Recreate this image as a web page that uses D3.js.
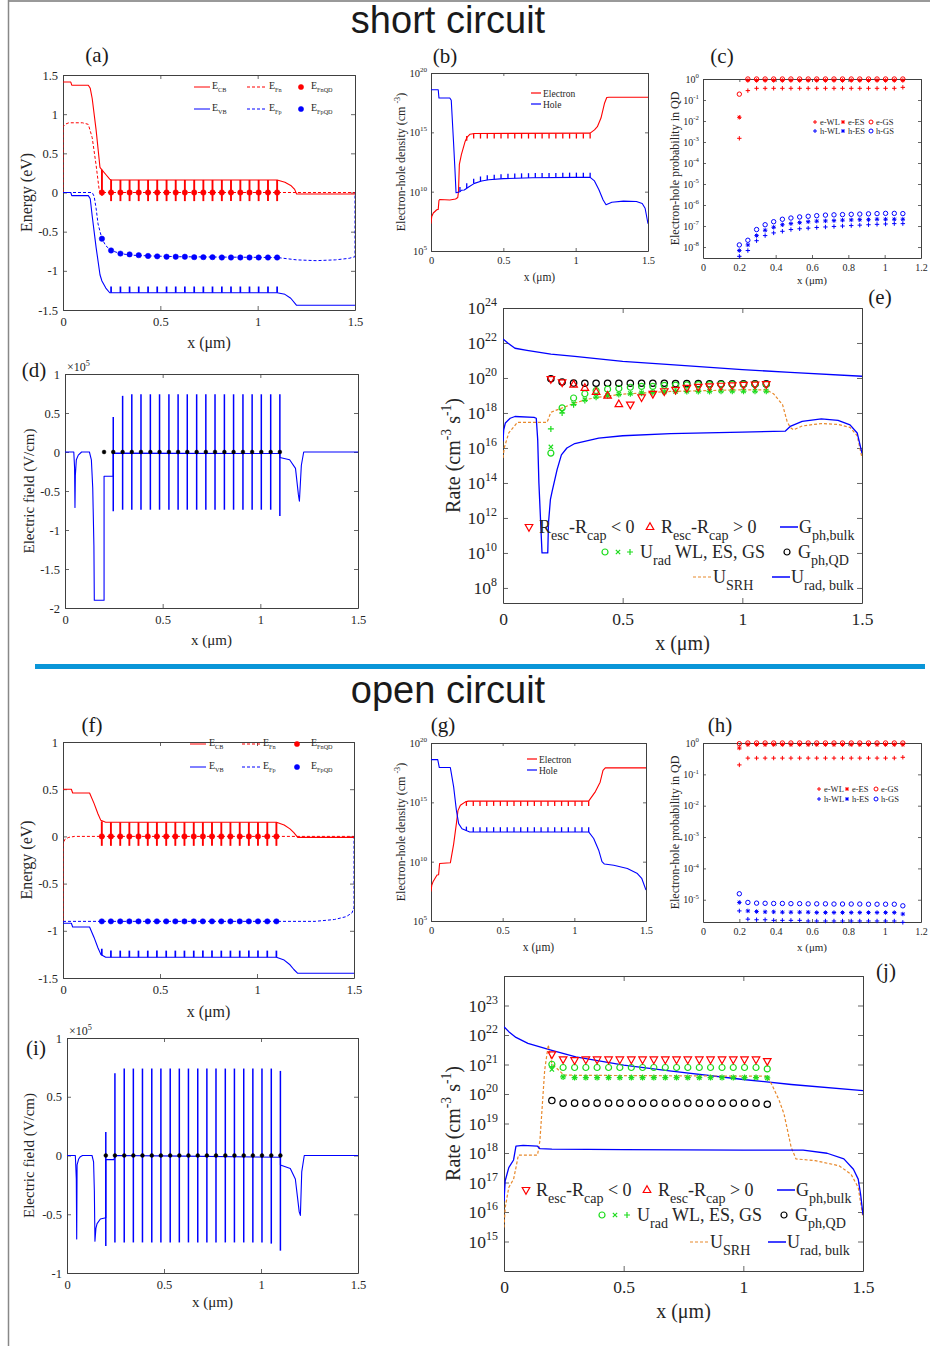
<!DOCTYPE html>
<html>
<head>
<meta charset="utf-8">
<script src="https://cdn.jsdelivr.net/npm/d3@7"></script>
<style>body{margin:0;background:#fff}</style>
</head>
<body>
<script>
// ---------- data ----------
// quantum dot positions (um)
var qdX = [0.2, 0.247, 0.295, 0.342, 0.389, 0.437, 0.484, 0.532, 0.579, 0.626, 0.674, 0.721, 0.768, 0.816, 0.863, 0.911, 0.958, 1.005, 1.053, 1.1];

// (a) short circuit band diagram (eV)
var scECB = [[0,1.41],[0.04,1.41],[0.045,1.37],[0.13,1.37],[0.14,1.33],[0.15,1.2],[0.17,0.8],[0.19,0.32],[0.2,0.29],[0.22,0.23],[0.24,0.17],[0.25,0.16],[1.1,0.16],[1.14,0.13],[1.17,0.09],[1.19,0.04],[1.2,-0.02],[1.5,-0.02]];
var scEFn = [[0,0],[0,0.84],[0.01,0.87],[0.03,0.89],[0.1,0.89],[0.13,0.87],[0.15,0.7],[0.17,0.35],[0.185,0.05],[0.19,0],[1.5,0]];
var scEVB = [[0,0],[0.04,0],[0.045,-0.04],[0.13,-0.04],[0.14,-0.08],[0.15,-0.3],[0.17,-0.7],[0.19,-1.05],[0.2,-1.13],[0.22,-1.22],[0.24,-1.28],[1.1,-1.28],[1.14,-1.3],[1.17,-1.35],[1.2,-1.44],[1.5,-1.44]];
var scEFp = [[0,0],[0.15,0],[0.16,-0.05],[0.17,-0.2],[0.18,-0.4],[0.2,-0.59],[0.22,-0.68],[0.247,-0.74],[0.295,-0.78],[0.35,-0.8],[0.45,-0.81],[0.6,-0.82],[1.1,-0.83],[1.2,-0.86],[1.3,-0.87],[1.4,-0.86],[1.47,-0.84],[1.5,-0.82],[1.5,0]];
var scEFnQD = [0,0,0,0,0,0,0,0,0,0,0,0,0,0,0,0,0,0,0,0];
var scEFpQD = [-0.59,-0.74,-0.78,-0.79,-0.8,-0.81,-0.815,-0.82,-0.82,-0.82,-0.825,-0.825,-0.825,-0.83,-0.83,-0.83,-0.83,-0.83,-0.83,-0.83];
var scCbTop = [0.29,0.16,0.16,0.16,0.16,0.16,0.16,0.16,0.16,0.16,0.16,0.16,0.16,0.16,0.16,0.16,0.16,0.16,0.16,0.16];
var scCbBot = [-0.04,-0.11,-0.11,-0.11,-0.11,-0.11,-0.11,-0.11,-0.11,-0.11,-0.11,-0.11,-0.11,-0.11,-0.11,-0.11,-0.11,-0.11,-0.11,-0.11];
var scVbTop = [null,-1.2,-1.2,-1.2,-1.2,-1.2,-1.2,-1.2,-1.2,-1.2,-1.2,-1.2,-1.2,-1.2,-1.2,-1.2,-1.2,-1.2,-1.2,-1.2];
var scVbBot = [null,-1.28,-1.28,-1.28,-1.28,-1.28,-1.28,-1.28,-1.28,-1.28,-1.28,-1.28,-1.28,-1.28,-1.28,-1.28,-1.28,-1.28,-1.28,-1.28];

// (b) short circuit carrier density (cm^-3)
var scElec = [[0,2e7],[0.005,8e7],[0.016,1.6e8],[0.04,3e8],[0.05,3.2e8],[0.055,1.8e9],[0.06,2.2e9],[0.13,2e9],[0.17,2.4e9],[0.185,3.2e9],[0.19,1e10],[0.196,2e12],[0.21,1.3e13],[0.235,1.6e14],[0.25,4e14],[0.27,7e14],[0.3,8e14],[1.1,8.5e14],[1.13,1.6e15],[1.15,3e15],[1.175,1.6e16],[1.2,3e17],[1.215,8.5e17],[1.23,9e17],[1.5,9e17]];
var scHole = [[0,3.9e18],[0.05,3.9e18],[0.055,7.8e17],[0.13,7.8e17],[0.14,5e17],[0.155,2.3e14],[0.165,1e12],[0.173,8e9],[0.2,1e10],[0.21,1.3e10],[0.23,1.4e10],[0.26,2.5e10],[0.3,5e10],[0.35,8e10],[0.4,1e11],[0.5,1.25e11],[0.7,1.5e11],[1,1.6e11],[1.1,1.6e11],[1.13,8e10],[1.16,1.5e10],[1.19,2e9],[1.21,8e8],[1.25,1.3e9],[1.33,1.6e9],[1.42,1.5e9],[1.46,1e9],[1.48,4e8],[1.5,2e7]];
var scElecQDTop = [null,5e14,8e14,8e14,8e14,8e14,8e14,8e14,8e14,8e14,8e14,8e14,8e14,8e14,8e14,8e14,8e14,8e14,8e14,8.5e14];
var scElecQDBot = [null,2e14,3e14,3e14,3e14,3e14,3e14,3e14,3e14,3e14,3e14,3e14,3e14,3e14,3e14,3e14,3e14,3e14,3e14,3e14];
var scHoleQDBot = [1e10,2e10,4.8e10,7.5e10,9.5e10,1.08e11,1.2e11,1.28e11,1.35e11,1.4e11,1.45e11,1.5e11,1.5e11,1.55e11,1.55e11,1.6e11,1.6e11,1.6e11,1.6e11,1.6e11];
var scHoleQDTop = [2.5e10,5e10,1.2e11,1.9e11,2.4e11,2.7e11,3e11,3.2e11,3.4e11,3.5e11,3.6e11,3.7e11,3.7e11,3.8e11,3.8e11,4e11,4e11,4e11,4e11,4e11];

// (c) short circuit occupation probability in QD
var scEWL = [1.5e-3,0.28,0.36,0.36,0.36,0.36,0.36,0.36,0.36,0.36,0.36,0.36,0.36,0.36,0.36,0.36,0.36,0.36,0.36,0.4];
var scEES = [0.015,0.85,0.85,0.85,0.85,0.85,0.85,0.85,0.85,0.85,0.85,0.85,0.85,0.85,0.85,0.85,0.85,0.85,0.85,0.85];
var scEGS = [0.19,1,1,1,1,1,1,1,1,1,1,1,1,1,1,1,1,1,1,1];
var scHWL = [3.6e-9,6.8e-9,2e-8,3.5e-8,4.7e-8,5.6e-8,6.8e-8,7.4e-8,7.9e-8,8.5e-8,9e-8,9.5e-8,1e-7,1.05e-7,1.1e-7,1.15e-7,1.2e-7,1.25e-7,1.3e-7,1.3e-7];
var scHES = [6.8e-9,1.26e-8,3.5e-8,6.3e-8,8.7e-8,1.15e-7,1.3e-7,1.45e-7,1.6e-7,1.7e-7,1.75e-7,1.8e-7,1.9e-7,1.95e-7,2e-7,2e-7,2.1e-7,2.1e-7,2.1e-7,2.1e-7];
var scHGS = [1.26e-8,2.1e-8,6.8e-8,1.15e-7,1.6e-7,2.1e-7,2.4e-7,2.7e-7,2.9e-7,3.1e-7,3.3e-7,3.4e-7,3.5e-7,3.6e-7,3.7e-7,3.8e-7,3.9e-7,4e-7,4e-7,3.9e-7];

// (d) short circuit electric field (V/cm)
var scField = [[0,0],[0.045,0],[0.049,-2e4],[0.051,-7.1e4],[0.053,-3e4],[0.058,-1e4],[0.068,-4e3],[0.085,0],[0.125,0],[0.135,-1e4],[0.142,-4.6e4],[0.148,-1.2e5],[0.15,-1.9e5],[0.2,-1.9e5],[0.2,-3.1e4],[0.247,-3.1e4],[0.247,-1.5e3],[1.1,-2e3],[1.1,-7e3],[1.15,-1e4],[1.18,-2.1e4],[1.195,-5.5e4],[1.2,-6.3e4],[1.21,-1.7e4],[1.222,0],[1.5,0]];
var scSpikeTop = [null,4.5e4,7.2e4,7.4e4,7.4e4,7.4e4,7.4e4,7.4e4,7.4e4,7.4e4,7.4e4,7.4e4,7.4e4,7.4e4,7.4e4,7.4e4,7.4e4,7.4e4,7.4e4,7.4e4];
var scSpikeBot = [null,-7.6e4,-7.4e4,-7.4e4,-7.4e4,-7.4e4,-7.4e4,-7.4e4,-7.4e4,-7.4e4,-7.4e4,-7.4e4,-7.4e4,-7.4e4,-7.4e4,-7.4e4,-7.4e4,-7.4e4,-7.4e4,-8.2e4];
var scFieldQD = [0,0,0,0,0,0,0,0,0,0,0,0,0,0,0,0,0,0,0,0];

// (e) short circuit rates (cm^-3 s^-1)
var scGphBulk = [[0,1.7e22],[0.02,1e22],[0.05,5e21],[0.1,3.8e21],[0.2,2.3e21],[0.3,1.7e21],[0.5,9e20],[0.7,5.8e20],[1,3e20],[1.2,2.1e20],[1.5,1.26e20]];
var scUradBulk = [[0,2.4e16],[0.003,1.1e17],[0.01,2.7e17],[0.03,5e17],[0.05,6.3e17],[0.13,5.6e17],[0.139,5e17],[0.145,3e16],[0.15,1e14],[0.163,1e10],[0.187,1e10],[0.19,5e11],[0.198,1.1e13],[0.205,3.2e13],[0.226,5.8e14],[0.244,4e15],[0.267,1e16],[0.3,1.8e16],[0.4,3.7e16],[0.5,5e16],[0.7,6.6e16],[1,8e16],[1.18,9.3e16],[1.2,1.7e17],[1.25,3.3e17],[1.33,4.6e17],[1.4,3.8e17],[1.45,2.1e17],[1.48,7.2e16],[1.5,5e15]];
var scUsrh = [[0,2.7e15],[0.005,1e16],[0.024,7.2e16],[0.06,2.9e17],[0.184,2.9e17],[0.2,1.1e18],[0.25,2e18],[0.3,3.7e18],[0.35,6e18],[0.4,8e18],[0.5,1.2e19],[0.7,1.7e19],[1,2.1e19],[1.1,2.1e19],[1.13,1.26e19],[1.168,3e18],[1.187,3.3e17],[1.2,1.5e17],[1.214,1.1e17],[1.25,1.8e17],[1.33,2.5e17],[1.4,2.2e17],[1.45,1.5e17],[1.48,5e16],[1.5,2.7e15]];
var scGphQD = [9.1e19,5.9e19,5.1e19,5e19,5e19,5e19,5e19,5e19,5e19,5e19,5e19,4.8e19,4.8e19,4.8e19,4.6e19,4.6e19,4.6e19,4.6e19,4.6e19,4.6e19];
var scRescNeg = [8.7e19,5.6e19,null,null,null,null,null,3e18,7.9e18,1.23e19,1.74e19,2.1e19,2.7e19,3.1e19,3.3e19,3.6e19,3.8e19,4e19,4.2e19,4.4e19];
var scRescPos = [null,null,4.2e19,2.7e19,1.6e19,9.8e18,3.2e18,null,null,null,null,null,null,null,null,null,null,null,null,null];
var scUradWL = [5.1e15,1.95e18,7.2e18,1.26e19,1.9e19,2.3e19,2.5e19,2.95e19,3.3e19,3.3e19,3.8e19,3.9e19,4e19,4.2e19,4.2e19,4.4e19,4.4e19,4.4e19,4.4e19,4.4e19];
var scUradES = [1.15e16,1.26e18,3.4e18,5.8e18,8.5e18,1e19,1.2e19,1.3e19,1.4e19,1.5e19,1.6e19,1.7e19,1.75e19,1.75e19,1.75e19,1.8e19,1.8e19,1.8e19,1.8e19,1.8e19];
var scUradGS = [1.23e17,1e18,3e18,5.2e18,8e18,1e19,1.15e19,1.25e19,1.35e19,1.45e19,1.55e19,1.65e19,1.7e19,1.7e19,1.7e19,1.75e19,1.75e19,1.75e19,1.75e19,1.75e19];

// (f) open circuit band diagram (eV)
var ocECB = [[0,0.5],[0.043,0.5],[0.05,0.46],[0.137,0.46],[0.16,0.35],[0.18,0.24],[0.195,0.17],[0.22,0.15],[1.1,0.15],[1.14,0.12],[1.17,0.08],[1.19,0.04],[1.21,-0.01],[1.5,-0.01]];
var ocEFn = [[0,-0.9],[0,-0.08],[0.01,-0.03],[0.03,-0.01],[0.06,0],[1.5,0]];
var ocEVB = [[0,-0.92],[0.043,-0.92],[0.05,-0.96],[0.137,-0.96],[0.16,-1.07],[0.18,-1.18],[0.195,-1.25],[0.22,-1.28],[1.1,-1.28],[1.14,-1.31],[1.17,-1.36],[1.19,-1.41],[1.21,-1.45],[1.5,-1.45]];
var ocEFp = [[0,-0.9],[1.3,-0.9],[1.4,-0.88],[1.46,-0.85],[1.49,-0.81],[1.5,-0.75],[1.5,0]];
var ocEFnQD = [0,0,0,0,0,0,0,0,0,0,0,0,0,0,0,0,0,0,0,0];
var ocEFpQD = [-0.9,-0.9,-0.9,-0.9,-0.9,-0.9,-0.9,-0.9,-0.9,-0.9,-0.9,-0.9,-0.9,-0.9,-0.9,-0.9,-0.9,-0.9,-0.9,-0.9];
var ocCbTop = [0.16,0.15,0.15,0.15,0.15,0.15,0.15,0.15,0.15,0.15,0.15,0.15,0.15,0.15,0.15,0.15,0.15,0.15,0.15,0.15];
var ocCbBot = [-0.1,-0.1,-0.1,-0.1,-0.1,-0.1,-0.1,-0.1,-0.1,-0.1,-0.1,-0.1,-0.1,-0.1,-0.1,-0.1,-0.1,-0.1,-0.1,-0.1];
var ocVbTop = [-1.19,-1.21,-1.21,-1.21,-1.21,-1.21,-1.21,-1.21,-1.21,-1.21,-1.21,-1.21,-1.21,-1.21,-1.21,-1.21,-1.21,-1.21,-1.21,-1.21];
var ocVbBot = [-1.26,-1.28,-1.28,-1.28,-1.28,-1.28,-1.28,-1.28,-1.28,-1.28,-1.28,-1.28,-1.28,-1.28,-1.28,-1.28,-1.28,-1.28,-1.28,-1.28];

// (g) open circuit carrier density (cm^-3)
var ocElec = [[0,3e7],[0.005,1e8],[0.014,2e8],[0.042,7.4e8],[0.053,8e8],[0.06,7e9],[0.135,8e9],[0.158,3e11],[0.177,1.6e13],[0.188,2e14],[0.205,5.7e14],[0.24,1.1e15],[0.26,1.26e15],[1.1,1.26e15],[1.147,8e15],[1.18,5e16],[1.2,5e17],[1.216,8e17],[1.5,8e17]];
var ocHole = [[0,4e18],[0.047,4e18],[0.058,8.5e17],[0.135,8.5e17],[0.158,2e16],[0.177,2.2e14],[0.193,1.6e13],[0.216,6e12],[0.25,4e12],[0.27,3.2e12],[1.1,3.2e12],[1.135,9e11],[1.17,9.3e10],[1.193,1e10],[1.21,6.3e9],[1.275,5e9],[1.37,2.7e9],[1.44,1e9],[1.47,4e8],[1.5,4e7]];
var ocElecQDTop = [null,1.2e15,1.26e15,1.26e15,1.26e15,1.26e15,1.26e15,1.26e15,1.26e15,1.26e15,1.26e15,1.26e15,1.26e15,1.26e15,1.26e15,1.26e15,1.26e15,1.26e15,1.26e15,1.26e15];
var ocElecQDBot = [null,5e14,5e14,5e14,5e14,5e14,5e14,5e14,5e14,5e14,5e14,5e14,5e14,5e14,5e14,5e14,5e14,5e14,5e14,5e14];
var ocHoleQDBot = [null,4e12,3.2e12,3.2e12,3.2e12,3.2e12,3.2e12,3.2e12,3.2e12,3.2e12,3.2e12,3.2e12,3.2e12,3.2e12,3.2e12,3.2e12,3.2e12,3.2e12,3.2e12,3.2e12];
var ocHoleQDTop = [null,9e12,8e12,8e12,8e12,8e12,8e12,8e12,8e12,8e12,8e12,8e12,8e12,8e12,8e12,8e12,8e12,8e12,8e12,8e12];

// (h) open circuit occupation probability in QD
var ocEWL = [0.2,0.33,0.33,0.33,0.33,0.33,0.33,0.33,0.33,0.33,0.33,0.33,0.33,0.33,0.33,0.33,0.33,0.33,0.33,0.35];
var ocEES = [0.69,0.89,0.89,0.89,0.89,0.89,0.89,0.89,0.89,0.89,0.89,0.89,0.89,0.89,0.89,0.89,0.89,0.89,0.89,0.89];
var ocEGS = [0.95,1,1,1,1,1,1,1,1,1,1,1,1,1,1,1,1,1,1,1];
var ocHGS = [1.55e-5,8.2e-6,7.8e-6,7.7e-6,7.6e-6,7.6e-6,7.5e-6,7.5e-6,7.4e-6,7.4e-6,7.4e-6,7.3e-6,7.3e-6,7.3e-6,7.3e-6,7.2e-6,7.2e-6,7.2e-6,7.2e-6,6.4e-6];
var ocHES = [8.2e-6,4.4e-6,4.2e-6,4.1e-6,4.1e-6,4e-6,4e-6,4e-6,4e-6,3.9e-6,3.9e-6,3.9e-6,3.9e-6,3.9e-6,3.9e-6,3.9e-6,3.9e-6,3.9e-6,3.9e-6,3.5e-6];
var ocHWL = [4.4e-6,2.4e-6,2.3e-6,2.3e-6,2.2e-6,2.2e-6,2.2e-6,2.2e-6,2.1e-6,2.1e-6,2.1e-6,2.1e-6,2.1e-6,2.1e-6,2.1e-6,2.1e-6,2.1e-6,2.1e-6,2.1e-6,1.9e-6];

// (i) open circuit electric field (V/cm)
var ocField = [[0,0],[0.043,0],[0.048,-2e4],[0.05,-7.1e4],[0.052,-8e3],[0.06,-3e3],[0.069,-1e3],[0.08,0],[0.129,0],[0.137,-5.5e3],[0.141,-3e4],[0.144,-7.3e4],[0.149,-6.2e4],[0.155,-5.8e4],[0.172,-5.4e4],[0.2,-5.3e4],[0.2,-3.5e3],[0.242,-3.5e3],[0.247,0],[0.6,-500],[1.1,-1.5e3],[1.1,-8e3],[1.151,-1.1e4],[1.177,-2e4],[1.197,-4.8e4],[1.203,-5.1e4],[1.21,-1.4e4],[1.223,0],[1.5,0]];
var ocSpikeTop = [2e4,7e4,7.4e4,7.4e4,7.4e4,7.4e4,7.4e4,7.4e4,7.4e4,7.4e4,7.4e4,7.4e4,7.4e4,7.4e4,7.4e4,7.4e4,7.4e4,7.4e4,7.4e4,7.2e4];
var ocSpikeBot = [-7.7e4,-7.4e4,-7.4e4,-7.4e4,-7.4e4,-7.4e4,-7.4e4,-7.4e4,-7.4e4,-7.4e4,-7.4e4,-7.4e4,-7.4e4,-7.4e4,-7.4e4,-7.4e4,-7.4e4,-7.4e4,-7.5e4,-8.1e4];
var ocFieldQD = [0,0,0,0,0,0,0,0,0,0,0,0,0,0,0,0,0,0,0,0];

// (j) open circuit rates (cm^-3 s^-1)
var ocGphBulk = [[0,1.9e22],[0.02,1.3e22],[0.05,8.3e21],[0.1,5.2e21],[0.2,3e21],[0.3,1.8e21],[0.5,9.5e20],[0.7,6e20],[1,3.1e20],[1.2,2.1e20],[1.5,1.3e20]];
var ocUradBulk = [[0,2.3e16],[0.005,1.15e17],[0.02,3.2e17],[0.04,5.8e17],[0.05,1.7e18],[0.08,1.8e18],[0.14,1.7e18],[0.15,1.4e18],[0.2,1.35e18],[0.5,1.3e18],[1,1.26e18],[1.25,1.26e18],[1.35,9.8e17],[1.42,6.3e17],[1.46,2.8e17],[1.48,1.3e17],[1.49,4e16],[1.5,8e15]];
var ocUsrh = [[0,3e15],[0.005,1.4e16],[0.02,6.8e16],[0.04,1.3e17],[0.05,3.2e17],[0.06,8.5e17],[0.14,8.5e17],[0.15,2.6e18],[0.17,6.5e20],[0.185,4.6e21],[0.2,1.07e21],[0.25,4.4e20],[0.3,4.3e20],[1.1,4e20],[1.12,2e20],[1.15,6e19],[1.17,2.1e19],[1.2,1.55e18],[1.22,6.3e17],[1.3,5.5e17],[1.4,3.7e17],[1.45,1.9e17],[1.48,6.8e16],[1.5,6.5e15]];
var ocRescNeg = [2.2e21,1.5e21,1.4e21,1.48e21,1.48e21,1.48e21,1.48e21,1.48e21,1.48e21,1.48e21,1.48e21,1.48e21,1.48e21,1.48e21,1.48e21,1.48e21,1.48e21,1.48e21,1.48e21,1.3e21];
var ocUradWL = [1.02e21,7.9e20,7.9e20,7.9e20,7.9e20,7.9e20,7.9e20,7.9e20,7.9e20,7.9e20,7.9e20,7.9e20,7.9e20,7.9e20,7.9e20,7.9e20,7.9e20,7.9e20,7.9e20,7.1e20];
var ocUradES = [6.8e20,3.8e20,3.6e20,3.6e20,3.6e20,3.6e20,3.6e20,3.6e20,3.6e20,3.6e20,3.6e20,3.6e20,3.6e20,3.6e20,3.6e20,3.6e20,3.6e20,3.6e20,3.6e20,3.5e20];
var ocUradGS = [8.3e20,3.8e20,3.6e20,3.6e20,3.6e20,3.6e20,3.6e20,3.6e20,3.6e20,3.6e20,3.6e20,3.6e20,3.6e20,3.6e20,3.6e20,3.6e20,3.6e20,3.6e20,3.6e20,3.5e20];
var ocGphQD = [6e19,4.9e19,4.9e19,4.9e19,4.9e19,4.9e19,4.9e19,4.9e19,4.9e19,4.9e19,4.9e19,4.9e19,4.9e19,4.9e19,4.9e19,4.9e19,4.9e19,4.9e19,4.9e19,4.5e19];

// ---------- drawing ----------
var serif = "'Liberation Serif', 'Times New Roman', serif";
var sans = "'Liberation Sans', Arial, sans-serif";
var axisCol = "#404040", textCol = "#262626";
var red = "#ff0000", blue = "#0000ff", green = "#1edc1e", orange = "#e8892c";

var svg = d3.select("body").append("svg").attr("width", 930).attr("height", 1346);
var defs = svg.append("defs");

svg.append("rect").attr("width", 930).attr("height", 1346).attr("fill", "#fff");
svg.append("line").attr("x1", 8).attr("x2", 930).attr("y1", 1).attr("y2", 1).attr("stroke", "#999").attr("stroke-width", 2);
svg.append("line").attr("x1", 8.5).attr("x2", 8.5).attr("y1", 0).attr("y2", 1346).attr("stroke", "#888").attr("stroke-width", 1.5);

svg.append("text").attr("x", 448).attr("y", 33).attr("text-anchor", "middle")
  .attr("font-family", sans).attr("font-size", 38).attr("fill", "#1a1a1a").text("short circuit");
svg.append("text").attr("x", 448).attr("y", 703).attr("text-anchor", "middle")
  .attr("font-family", sans).attr("font-size", 38).attr("fill", "#1a1a1a").text("open circuit");
svg.append("rect").attr("x", 35).attr("y", 664).attr("width", 890).attr("height", 5).attr("fill", "#0a96d8");

function makeAxes(o) {
  var P = {};
  P.x = d3.scaleLinear().domain(o.xd).range([o.l, o.r]);
  P.y = (o.log ? d3.scaleLog() : d3.scaleLinear()).domain(o.yd).range([o.b, o.t]);
  var g = svg.append("g");
  var tl = o.tl || 4;
  var fx = function(d) { return String(d); };
  var fy = o.yfmt || fx;
  g.append("g").attr("transform", "translate(0," + o.b + ")")
    .call(d3.axisBottom(P.x).tickValues(o.xt).tickSizeInner(-tl).tickSizeOuter(0).tickPadding(o.xpad).tickFormat(fx));
  g.append("g").attr("transform", "translate(0," + o.t + ")")
    .call(d3.axisTop(P.x).tickValues(o.xt).tickSizeInner(-tl).tickSizeOuter(0).tickFormat(""));
  var gl = g.append("g").attr("transform", "translate(" + o.l + ",0)")
    .call(d3.axisLeft(P.y).tickValues(o.yt).tickSizeInner(-tl).tickSizeOuter(0).tickPadding(o.ypad)
      .tickFormat(o.log ? function() { return ""; } : fy));
  g.append("g").attr("transform", "translate(" + o.r + ",0)")
    .call(d3.axisRight(P.y).tickValues(o.yt).tickSizeInner(-tl).tickSizeOuter(0).tickFormat(""));
  g.selectAll(".domain").attr("stroke", axisCol).attr("stroke-width", 1);
  g.selectAll(".tick line").attr("stroke", axisCol).attr("stroke-width", 0.8);
  g.selectAll("g").attr("font-family", serif).attr("font-size", o.fs);
  g.selectAll(".tick text").attr("fill", textCol);
  if (o.log) {
    gl.selectAll(".tick text").each(function(d) {
      var t = d3.select(this);
      t.append("tspan").text("10");
      t.append("tspan").attr("dy", -o.fs * 0.45).attr("font-size", o.fs * 0.68).text(Math.round(Math.log10(d)));
    });
  }
  defs.append("clipPath").attr("id", "clip" + o.name).append("rect")
    .attr("x", o.l).attr("y", o.t).attr("width", o.r - o.l).attr("height", o.b - o.t);
  P.plot = svg.append("g").attr("clip-path", "url(#clip" + o.name + ")");
  P.marks = svg.append("g");
  P.o = o;
  return P;
}

function rich(x, y, parts, size, opt) {
  opt = opt || {};
  var t = svg.append("text").attr("x", x).attr("y", y).attr("font-family", serif)
    .attr("font-size", size).attr("fill", opt.fill || textCol).attr("text-anchor", opt.anchor || "start");
  if (opt.rotate) t.attr("transform", "rotate(-90," + x + "," + y + ")");
  var ratio = opt.ratio || 0.68, shift = 0;
  parts.forEach(function(p) {
    var target = p[1] === "sub" ? size * (opt.subShift || 0.3) : p[1] === "sup" ? -size * 0.45 : 0;
    var ts = t.append("tspan").attr("dy", target - shift).text(p[0]);
    if (p[1]) ts.attr("font-size", size * ratio);
    shift = target;
  });
  return t;
}

function xlabel(P, y, fs) {
  rich((P.o.l + P.o.r) / 2, y, [["x ("], ["\u03bcm)"]], fs, { anchor: "middle" });
}
function ylabel(P, x, parts, fs) {
  rich(x, (P.o.t + P.o.b) / 2, parts, fs, { anchor: "middle", rotate: true });
}
function panelLabel(x, y, s) {
  svg.append("text").attr("x", x).attr("y", y).attr("text-anchor", "middle").attr("font-family", serif)
    .attr("font-size", 21).attr("fill", "#1a1a1a").text(s);
}

function curve(P, data, color, dash, w) {
  P.plot.append("path").datum(data).attr("fill", "none").attr("stroke", color)
    .attr("stroke-width", w || 1).attr("stroke-dasharray", dash || null).attr("stroke-linejoin", "round")
    .attr("d", d3.line().x(function(d) { return P.x(d[0]); }).y(function(d) { return P.y(d[1]); }));
}

function bars(P, xs, tops, bots, color, w) {
  var data = xs.map(function(v, i) { return [v, tops[i], bots[i]]; }).filter(function(d) { return d[1] != null; });
  P.plot.selectAll(null).data(data).join("line")
    .attr("x1", function(d) { return P.x(d[0]); }).attr("x2", function(d) { return P.x(d[0]); })
    .attr("y1", function(d) { return P.y(d[1]); }).attr("y2", function(d) { return P.y(d[2]); })
    .attr("stroke", color).attr("stroke-width", w);
}

function symPath(shape, s) {
  var p = d3.path(), k = s * 0.72;
  if (shape === "circle" || shape === "dot") { p.moveTo(s, 0); p.arc(0, 0, s, 0, 2 * Math.PI); }
  else if (shape === "plus") { p.moveTo(-s, 0); p.lineTo(s, 0); p.moveTo(0, -s); p.lineTo(0, s); }
  else if (shape === "times") { p.moveTo(-k, -k); p.lineTo(k, k); p.moveTo(-k, k); p.lineTo(k, -k); }
  else if (shape === "star") {
    p.moveTo(-s, 0); p.lineTo(s, 0); p.moveTo(0, -s); p.lineTo(0, s);
    p.moveTo(-k, -k); p.lineTo(k, k); p.moveTo(-k, k); p.lineTo(k, -k);
  }
  else if (shape === "tri") { p.moveTo(0, -s); p.lineTo(s * 0.9, s * 0.6); p.lineTo(-s * 0.9, s * 0.6); p.closePath(); }
  else if (shape === "triDown") { p.moveTo(0, s); p.lineTo(s * 0.9, -s * 0.6); p.lineTo(-s * 0.9, -s * 0.6); p.closePath(); }
  return p.toString();
}

function symbolAt(g, x, y, shape, color, s, w) {
  g.append("path").attr("transform", "translate(" + x + "," + y + ")").attr("d", symPath(shape, s))
    .attr("fill", shape === "dot" ? color : "none").attr("stroke", color).attr("stroke-width", shape === "dot" ? 0.5 : (w || 1));
}

function marks(P, xs, vals, shape, color, s, w) {
  var data = xs.map(function(v, i) { return [v, vals[i]]; }).filter(function(d) { return d[1] != null; });
  P.marks.selectAll(null).data(data).join("path")
    .attr("transform", function(d) { return "translate(" + P.x(d[0]) + "," + P.y(d[1]) + ")"; })
    .attr("d", symPath(shape, s))
    .attr("fill", shape === "dot" ? color : "none").attr("stroke", color)
    .attr("stroke-width", shape === "dot" ? 0.5 : (w || 1));
}

function legLine(x1, x2, y, color, dash, w) {
  svg.append("line").attr("x1", x1).attr("x2", x2).attr("y1", y).attr("y2", y).attr("stroke", color)
    .attr("stroke-width", w || 1).attr("stroke-dasharray", dash || null);
}

var xt15 = [0, 0.5, 1, 1.5];

// ----- band diagram panels (a) & (f)
function bandPanel(box, yd, yt, d, leg) {
  var P = makeAxes(Object.assign({ xd: [0, 1.5], yd: yd, xt: xt15, yt: yt, fs: 12.5, xpad: 7, ypad: 5 }, box));
  curve(P, d.efn, red, "3,2");
  curve(P, d.efp, blue, "3,2");
  curve(P, d.ecb, red, null, 1.1);
  curve(P, d.evb, blue, null, 1.1);
  bars(P, qdX, d.cbTop, d.cbBot, red, 1.9);
  bars(P, qdX, d.vbTop, d.vbBot, blue, 1.7);
  marks(P, qdX, d.efnQD, "dot", red, 2.7);
  marks(P, qdX, d.efpQD, "dot", blue, 2.7);
  // legend
  var c = leg.cols, tx = leg.texts, r = leg.rows;
  legLine(c[0], c[0] + 16, r[0], red, null, 1);
  legLine(c[1], c[1] + 20, r[0], red, "3,2", 1);
  symbolAt(svg, c[2], r[0], "dot", red, 2.6);
  legLine(c[0], c[0] + 16, r[1], blue, null, 1);
  legLine(c[1], c[1] + 20, r[1], blue, "3,2", 1);
  symbolAt(svg, c[2], r[1], "dot", blue, 2.6);
  rich(tx[0], r[0] + 2, [["E"], ["CB", "sub"]], 10, { ratio: 0.62 });
  rich(tx[1], r[0] + 2, [["E"], ["Fn", "sub"]], 10, { ratio: 0.62 });
  rich(tx[2], r[0] + 2, [["E"], ["FnQD", "sub"]], 10, { ratio: 0.62 });
  rich(tx[0], r[1] + 2, [["E"], ["VB", "sub"]], 10, { ratio: 0.62 });
  rich(tx[1], r[1] + 2, [["E"], ["Fp", "sub"]], 10, { ratio: 0.62 });
  rich(tx[2], r[1] + 2, [["E"], ["FpQD", "sub"]], 10, { ratio: 0.62 });
  xlabel(P, box.xlab, 16);
  ylabel(P, box.ylabX, [["Energy (eV)"]], 16);
  return P;
}

bandPanel({ name: "a", l: 63, t: 75, r: 355, b: 310, xlab: 348, ylabX: 32 }, [-1.5, 1.5], [-1.5, -1, -0.5, 0, 0.5, 1, 1.5],
  { ecb: scECB, efn: scEFn, evb: scEVB, efp: scEFp, efnQD: scEFnQD, efpQD: scEFpQD, cbTop: scCbTop, cbBot: scCbBot, vbTop: scVbTop, vbBot: scVbBot },
  { cols: [194, 247, 301], texts: [212, 269, 311], rows: [87, 109] });
panelLabel(97, 62, "(a)");

bandPanel({ name: "f", l: 63, t: 742, r: 354, b: 978, xlab: 1017, ylabX: 32 }, [-1.5, 1], [-1.5, -1, -0.5, 0, 0.5, 1],
  { ecb: ocECB, efn: ocEFn, evb: ocEVB, efp: ocEFp, efnQD: ocEFnQD, efpQD: ocEFpQD, cbTop: ocCbTop, cbBot: ocCbBot, vbTop: ocVbTop, vbBot: ocVbBot },
  { cols: [190, 242, 297], texts: [209, 263, 311], rows: [744, 767] });
panelLabel(92, 732, "(f)");

// ----- density panels (b) & (g)
function densPanel(box, d, leg) {
  var P = makeAxes(Object.assign({ xd: [0, 1.5], yd: [1e5, 1e20], log: true, xt: xt15, yt: [1e5, 1e10, 1e15, 1e20], fs: 10.5, xpad: 6, ypad: 4, tl: 3 }, box));
  curve(P, d.elec, red, null, 1.1);
  curve(P, d.hole, blue, null, 1.1);
  bars(P, qdX, d.eTop, d.eBot, red, 1.3);
  bars(P, qdX, d.hTop, d.hBot, blue, 1.3);
  legLine(leg.x, leg.x + 10, leg.y, red, null, 1.2);
  legLine(leg.x, leg.x + 10, leg.y + 11, blue, null, 1.2);
  rich(leg.x + 12, leg.y + 3.5, [["Electron"]], 9.5);
  rich(leg.x + 12, leg.y + 14.5, [["Hole"]], 9.5);
  xlabel(P, box.xlab, 11.5);
  ylabel(P, box.ylabX, [["Electron-hole density (cm "], ["-3", "sup"], [")"]], 12);
  return P;
}
densPanel({ name: "b", l: 431, t: 73, r: 648, b: 251, xlab: 281, ylabX: 405 },
  { elec: scElec, hole: scHole, eTop: scElecQDTop, eBot: scElecQDBot, hTop: scHoleQDTop, hBot: scHoleQDBot },
  { x: 531, y: 93 });
panelLabel(445, 63, "(b)");
densPanel({ name: "g", l: 431, t: 743, r: 646, b: 921, xlab: 951, ylabX: 405 },
  { elec: ocElec, hole: ocHole, eTop: ocElecQDTop, eBot: ocElecQDBot, hTop: ocHoleQDTop, hBot: ocHoleQDBot },
  { x: 527, y: 759 });
panelLabel(443, 732, "(g)");

// ----- probability panels (c) & (h)
function probPanel(box, yd, yt, d, leg) {
  var P = makeAxes(Object.assign({ xd: [0, 1.2], yd: yd, log: true, xt: [0, 0.2, 0.4, 0.6, 0.8, 1, 1.2], yt: yt, fs: 10, xpad: 6, ypad: 4, tl: 3 }, box));
  marks(P, qdX, d.eWL, "plus", red, 2.2, 1);
  marks(P, qdX, d.eES, "star", red, 2.2, 1);
  marks(P, qdX, d.eGS, "circle", red, 2.2, 1);
  marks(P, qdX, d.hWL, "plus", blue, 2.2, 1);
  marks(P, qdX, d.hES, "star", blue, 2.2, 1);
  marks(P, qdX, d.hGS, "circle", blue, 2.2, 1);
  var names = [["e-WL", "e-ES", "e-GS"], ["h-WL", "h-ES", "h-GS"]];
  var shapes = ["plus", "star", "circle"];
  [red, blue].forEach(function(col, r) {
    shapes.forEach(function(sh, c) {
      symbolAt(svg, leg.cols[c], leg.rows[r], sh, col, 2, 1);
      rich(leg.cols[c] + 5, leg.rows[r] + 3, [[names[r][c]]], 8.5);
    });
  });
  xlabel(P, box.xlab, 11);
  ylabel(P, box.ylabX, [["Electron-hole probability in QD"]], 12);
  return P;
}
probPanel({ name: "c", l: 703, t: 79, r: 921, b: 258, xlab: 284, ylabX: 679 }, [3e-9, 1],
  [1e-8, 1e-7, 1e-6, 1e-5, 1e-4, 1e-3, 1e-2, 1e-1, 1],
  { eWL: scEWL, eES: scEES, eGS: scEGS, hWL: scHWL, hES: scHES, hGS: scHGS },
  { cols: [815, 843, 871], rows: [122, 131] });
panelLabel(722, 63, "(c)");
probPanel({ name: "h", l: 703, t: 743, r: 921, b: 922, xlab: 951, ylabX: 679 }, [1.95e-6, 1],
  [1e-5, 1e-4, 1e-3, 1e-2, 1e-1, 1],
  { eWL: ocEWL, eES: ocEES, eGS: ocEGS, hWL: ocHWL, hES: ocHES, hGS: ocHGS },
  { cols: [819, 847, 876], rows: [789, 799] });
panelLabel(720, 732, "(h)");

// ----- electric field panels (d) & (i)
function fieldPanel(box, yd, yt, d) {
  var P = makeAxes(Object.assign({ xd: [0, 1.5], yd: yd, xt: xt15, yt: yt, fs: 12.5, xpad: 7, ypad: 5,
    yfmt: function(v) { return String(v / 1e5); } }, box));
  curve(P, d.base, blue, null, 1.1);
  bars(P, qdX, d.top, d.bot, blue, 1.5);
  marks(P, qdX, d.qd, "dot", "#000", 1.9);
  rich(box.l + 2, box.t - 3, [["\u00d710"], ["5", "sup"]], 12);
  xlabel(P, box.xlab, 15);
  ylabel(P, box.ylabX, [["Electric field (V/cm)"]], 15);
  return P;
}
fieldPanel({ name: "d", l: 65, t: 374, r: 358, b: 608, xlab: 645, ylabX: 34 }, [-2e5, 1e5],
  [-2e5, -1.5e5, -1e5, -0.5e5, 0, 0.5e5, 1e5], { base: scField, top: scSpikeTop, bot: scSpikeBot, qd: scFieldQD });
panelLabel(34, 377, "(d)");
fieldPanel({ name: "i", l: 67, t: 1038, r: 358, b: 1273, xlab: 1307, ylabX: 34 }, [-1e5, 1e5],
  [-1e5, -0.5e5, 0, 0.5e5, 1e5], { base: ocField, top: ocSpikeTop, bot: ocSpikeBot, qd: ocFieldQD });
panelLabel(36, 1055, "(i)");

// ----- rate panels (e) & (j)
function ratePanel(box, yd, yt, d, leg) {
  var P = makeAxes(Object.assign({ xd: [0, 1.5], yd: yd, log: true, xt: xt15, yt: yt, fs: 17.5, xpad: 10, ypad: 6, tl: 5 }, box));
  curve(P, d.gph, blue, null, 1.3);
  curve(P, d.usrh, orange, "3,2", 1.2);
  curve(P, d.urad, blue, null, 1.3);
  marks(P, qdX, d.gqd, "circle", "#000", 3.2, 1.2);
  marks(P, qdX, d.wl, "circle", green, 3, 1.2);
  marks(P, qdX, d.es, "times", green, 3, 1.2);
  marks(P, qdX, d.gs, "plus", green, 3, 1.2);
  marks(P, qdX, d.neg, "triDown", red, 4.2, 1.2);
  if (d.pos) marks(P, qdX, d.pos, "tri", red, 4.2, 1.2);
  // legend
  var r = leg.rows, fs = 18, o = { ratio: 0.78, subShift: 0.38 };
  symbolAt(svg, leg.neg, r[0], "triDown", red, 4.2, 1.2);
  rich(leg.neg + 10, r[0] + 6, [["R"], ["esc", "sub"], ["-R"], ["cap", "sub"], [" < 0"]], fs, o);
  symbolAt(svg, leg.pos, r[0], "tri", red, 4.2, 1.2);
  rich(leg.pos + 11, r[0] + 6, [["R"], ["esc", "sub"], ["-R"], ["cap", "sub"], [" > 0"]], fs, o);
  legLine(leg.g1, leg.g1 + 18, r[0], blue, null, 1.5);
  rich(leg.g1 + 19, r[0] + 6, [["G"], ["ph,bulk", "sub"]], fs, o);
  symbolAt(svg, leg.u, r[1], "circle", green, 3, 1.2);
  symbolAt(svg, leg.u + 13, r[1], "times", green, 3, 1.2);
  symbolAt(svg, leg.u + 25, r[1], "plus", green, 3, 1.2);
  rich(leg.u + 35, r[1] + 6, [["U"], ["rad", "sub"], [" WL, ES, GS"]], fs, o);
  symbolAt(svg, leg.gq, r[1], "circle", "#000", 3, 1.2);
  rich(leg.gq + 11, r[1] + 6, [["G"], ["ph,QD", "sub"]], fs, o);
  legLine(leg.s, leg.s + 19, r[2], orange, "3,2", 1.2);
  rich(leg.s + 20, r[2] + 6, [["U"], ["SRH", "sub"]], fs, o);
  legLine(leg.ub, leg.ub + 18, r[2], blue, null, 1.5);
  rich(leg.ub + 19, r[2] + 6, [["U"], ["rad, bulk", "sub"]], fs, o);
  xlabel(P, box.xlab, 20);
  ylabel(P, box.ylabX, [["Rate (cm"], ["-3", "sup"], [" s"], ["-1", "sup"], [")"]], 20);
  return P;
}
ratePanel({ name: "e", l: 503, t: 308, r: 862, b: 603, xlab: 650, ylabX: 460 }, [1.38e7, 1e24],
  [1e8, 1e10, 1e12, 1e14, 1e16, 1e18, 1e20, 1e22, 1e24],
  { gph: scGphBulk, urad: scUradBulk, usrh: scUsrh, gqd: scGphQD, wl: scUradWL, es: scUradES, gs: scUradGS, neg: scRescNeg, pos: scRescPos },
  { rows: [527, 552, 577], neg: 529, pos: 650, g1: 780, u: 605, gq: 787, s: 693, ub: 772 });
panelLabel(880, 304, "(e)");
ratePanel({ name: "j", l: 504, t: 976, r: 863, b: 1271, xlab: 1318, ylabX: 460 }, [1e14, 1e24],
  [1e15, 1e16, 1e17, 1e18, 1e19, 1e20, 1e21, 1e22, 1e23],
  { gph: ocGphBulk, urad: ocUradBulk, usrh: ocUsrh, gqd: ocGphQD, wl: ocUradWL, es: ocUradES, gs: ocUradGS, neg: ocRescNeg, pos: null },
  { rows: [1190, 1215, 1242], neg: 526, pos: 647, g1: 777, u: 602, gq: 784, s: 690, ub: 768 });
panelLabel(886, 978, "(j)");
</script>
</body>
</html>
